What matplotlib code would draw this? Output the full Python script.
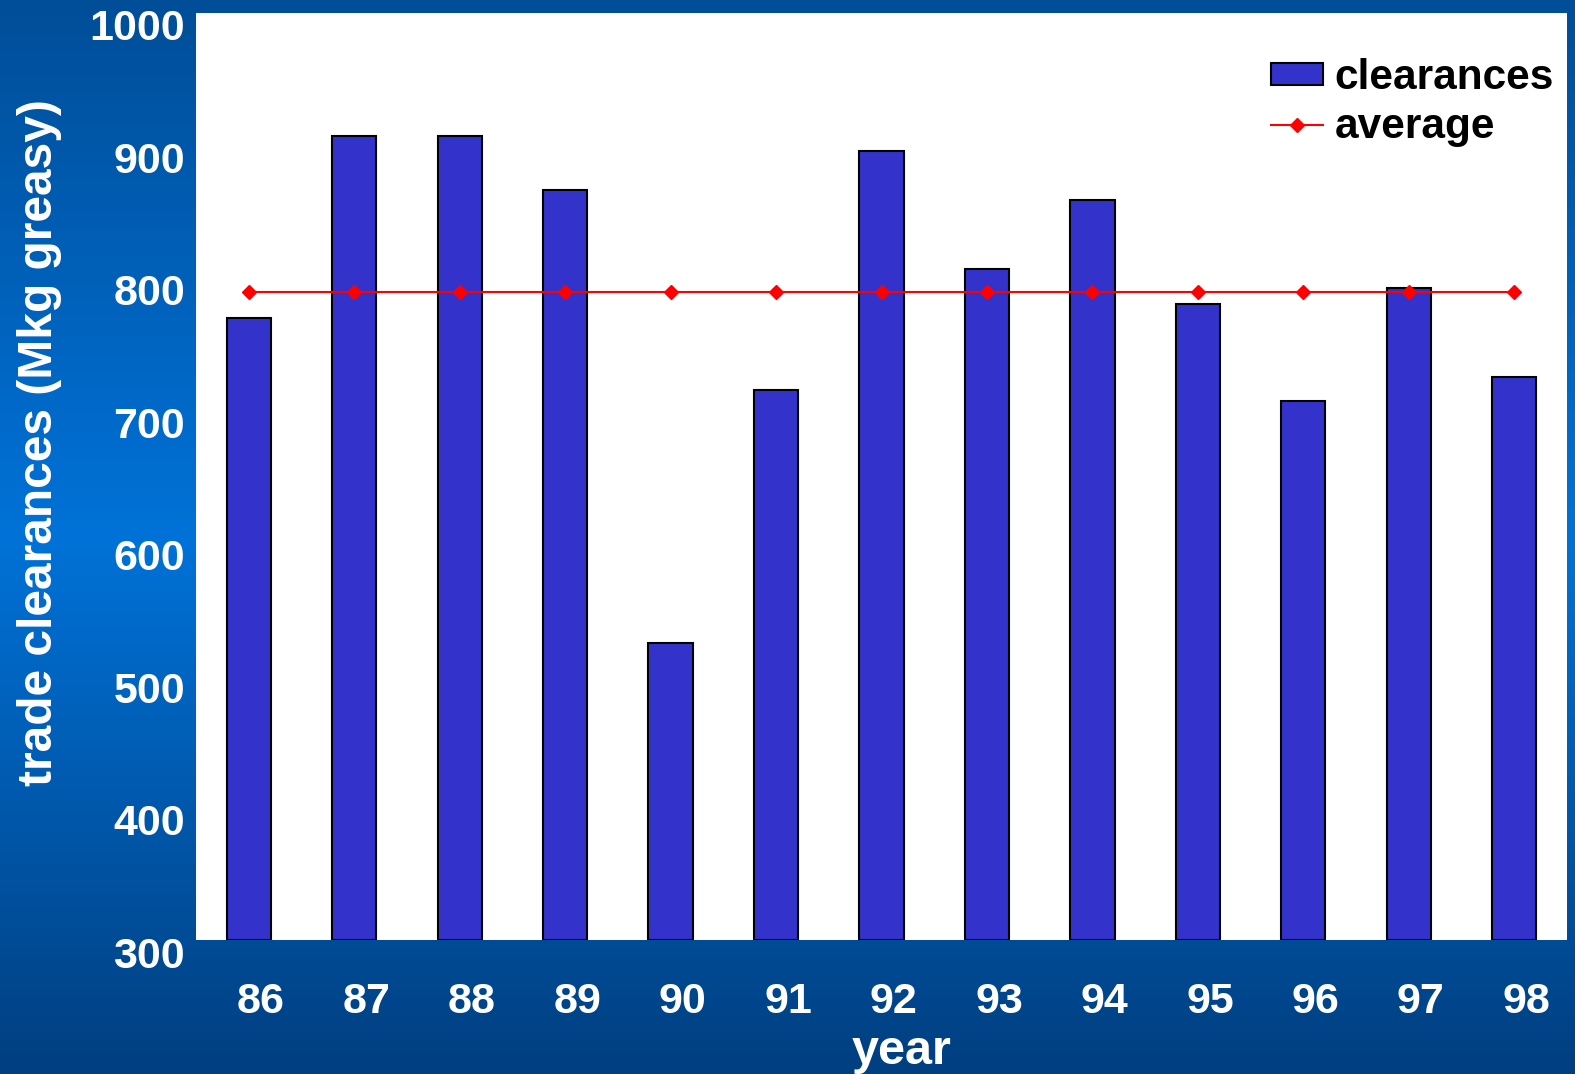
import numpy as np
import matplotlib.pyplot as plt
import matplotlib.transforms as mtransforms
from matplotlib.colors import LinearSegmentedColormap

# data
years = ['86', '87', '88', '89', '90', '91', '92', '93', '94', '95', '96', '97', '98']
clearances = [770, 907, 907, 866, 524, 715, 896, 807, 859, 780, 707, 792, 725]
average = [789] * 13

plt.rcParams['font.family'] = ['Liberation Sans', 'DejaVu Sans']
plt.rcParams['font.weight'] = 'bold'

W, H = 1575, 1074
fig = plt.figure(figsize=(W / 100, H / 100), dpi=100)

# blue gradient background
bg = fig.add_axes([0, 0, 1, 1], zorder=-1)
bg_cmap = LinearSegmentedColormap.from_list(
    'bg', [(0.0, '#004e98'), (0.5, '#0072d8'), (1.0, '#003f80')])
grad = np.linspace(0, 1, 256).reshape(-1, 1)
bg.imshow(grad, aspect='auto', cmap=bg_cmap, extent=[0, 1, 0, 1], origin='upper')
bg.set_axis_off()

left, right, top, bottom = 196, 1567, 13, 940
ax = fig.add_axes([left / W, 1 - bottom / H, (right - left) / W, (bottom - top) / H])
ax.set_facecolor('white')

x = np.arange(len(years))
bars = ax.bar(x, np.array(clearances) - 300, bottom=300, width=0.42, color='#3333cc',
              edgecolor='black', linewidth=1.5, label='clearances', zorder=2)
line, = ax.plot(x, average, color='red', lw=1.5, marker='D', markersize=7,
                label='average', zorder=3)

ax.set_xlim(-0.5, len(years) - 0.5)
ax.set_ylim(300, 1000)
ax.set_yticks(range(300, 1001, 100))
ax.set_xticks(x)
ax.set_xticklabels(years)
ax.tick_params(length=0, labelsize=31, labelcolor='white', pad=8)
ax.tick_params(axis='x', pad=30)
for s in ax.spines.values():
    s.set_visible(False)

# labels in the reference sit a little off their ticks
for lab in ax.get_yticklabels():
    lab.set_transform(lab.get_transform() + mtransforms.ScaledTranslation(0, -12 / 100, fig.dpi_scale_trans))
for lab in ax.get_xticklabels():
    lab.set_transform(lab.get_transform() + mtransforms.ScaledTranslation(12 / 100, 0, fig.dpi_scale_trans))

fig.text(902 / W, 1 - 1052 / H, 'year', color='white', fontsize=35,
         fontweight='bold', ha='center', va='center')
fig.text(40 / W, 1 - 443 / H, 'trade clearances (Mkg greasy)', color='white',
         fontsize=34.5, fontweight='bold', rotation=90, ha='center', va='center')

leg = ax.legend([bars, line], ['clearances', 'average'], loc='upper left',
                frameon=False, fontsize=30.5, handlelength=1.22, handleheight=0.45,
                handletextpad=0.28, labelspacing=0.22, borderaxespad=0, borderpad=0,
                bbox_to_anchor=((1271 - left) / (right - left), (bottom - 58) / (bottom - top)))

fig.savefig('out.png', dpi=100)
